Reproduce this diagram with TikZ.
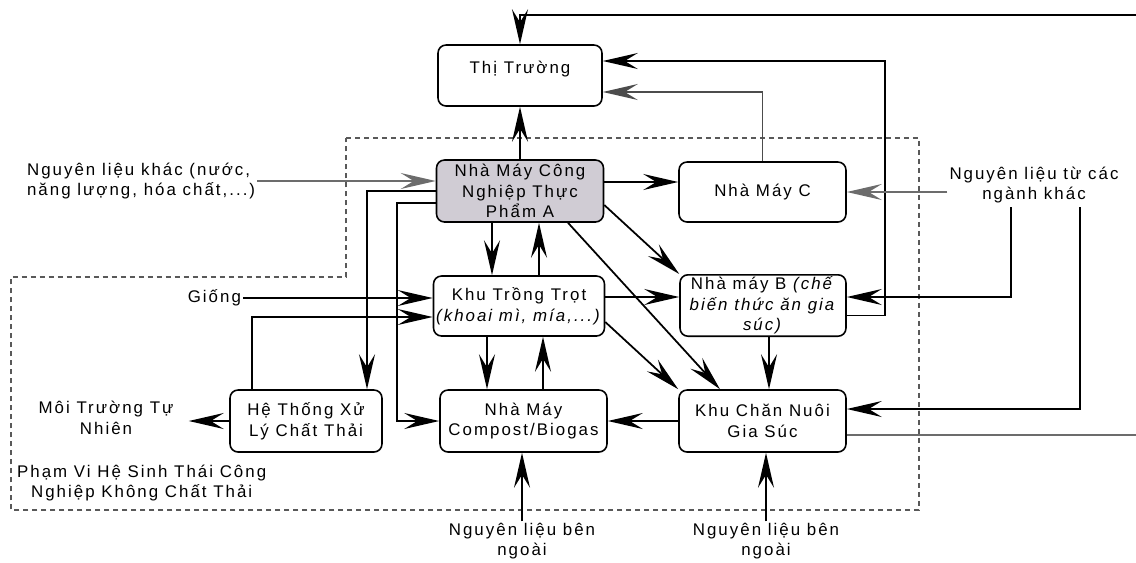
\documentclass[tikz,border=0pt]{standalone}
\usepackage{fontspec}
\setmainfont{Liberation Sans}[LetterSpace=12]
\usetikzlibrary{arrows.meta, calc}
\definecolor{plant}{RGB}{208,204,212}

\begin{document}
\begin{tikzpicture}[x=0.02cm, y=-0.02cm, >={Stealth[length=0.7cm, width=0.32cm, inset=0.26cm]},
	font=\fontsize{9.6}{11.8}\selectfont,
	box/.style={draw, rounded corners=0.16cm, line width=0.9pt, align=center, inner sep=1pt, minimum width=3.34cm, minimum height=1.24cm},
	lbl/.style={align=center, inner sep=1pt},
	flow/.style={->, line width=1pt},
	feed/.style={->, line width=1pt, draw=gray!85!black},
	zone/.style={draw=gray!70!black, line width=0.7pt, dash pattern=on 0.1cm off 0.08cm}]
			
			\useasboundingbox (0,0) rectangle (1136,562);
			
			% Zone of the eco-industrial park
			\draw[zone] (346,138) -- (919,138) -- (919,510) -- (11,510) -- (11,277) -- (346,277) -- cycle;
			
			% Boxes
			\node[box, minimum width=3.28cm, minimum height=1.22cm, text height=7pt, text depth=9pt] (tt) at (520,75.5) {Thị Trường};
			\node[box, fill=plant] (A) at (520,191) {Nhà Máy Công\\Nghiệp Thực\\Phẩm A};
			\node[box, minimum height=1.2cm] (C) at (762.5,192) {Nhà Máy C};
			\node[box, minimum width=3.42cm, minimum height=1.2cm] (TT) at (519,306) {Khu Trồng Trọt\\\textit{(khoai mì, mía,...)}};
			\node[box, minimum width=3.32cm, minimum height=1.22cm] (B) at (763,305.5) {Nhà máy B \textit{(chế}\\\textit{biến thức ăn gia}\\\textit{súc)}};
			\node[box, minimum width=3.04cm] (HT) at (306,421) {Hệ Thống Xử\\Lý Chất Thải};
			\node[box] (CB) at (523.5,421) {Nhà Máy\\Compost/Biogas};
			\node[box] (CN) at (762.5,421) {Khu Chăn Nuôi\\Gia Súc};
			
			% Outside labels
			\node[lbl, align=left, anchor=west] (nlk) at (25,181) {Nguyên liệu khác (nước,\\năng lượng, hóa chất,...)};
			\node[lbl] (nlt) at (1034,185) {Nguyên liệu từ các\\ngành khác};
			\node[lbl, anchor=east] (giong) at (243,298) {Giống};
			\node[lbl, inner xsep=0.3cm] (mt) at (106,418) {Môi Trường Tự\\Nhiên};
			\node[lbl, anchor=west] (pv) at (15,483) {Phạm Vi Hệ Sinh Thái Công\\Nghiệp Không Chất Thải};
			\node[lbl, font=\fontsize{9.6}{11}\selectfont] (nlb1) at (522,541) {Nguyên liệu bên\\ngoài};
			\node[lbl, font=\fontsize{9.6}{11}\selectfont] (nlb2) at (766,541) {Nguyên liệu bên\\ngoài};
			
			% Rails
			\coordinate (topR) at (1136,15);
			\coordinate (outR) at (1136,435);
			\coordinate (railB) at (885,0);
			\coordinate (railH) at (367,0);
			\coordinate (railC) at (397,0);
			\coordinate (railG) at (252,0);
			\coordinate (nltL) at (1011,207);
			\coordinate (nltR) at (1080,207);
			
			% Market
			\draw[flow] (topR) -| (tt.north);
			\draw[flow] (A) -- (tt);
			\draw[feed, draw=gray!60!black] (C.north) |- ($(tt.east)+(0,16.5)$);
			\draw[flow] ($(B.east)+(0,10)$) -| ($(railB |- tt.east)+(0,-14.5)$) -- ($(tt.east)+(0,-14.5)$);
			
			% Inputs
			\draw[feed] (nlk.east) -- (nlk.east -| A.west);
			\draw[feed] (nlt.west |- C.east) -- (C.east);
			\draw[flow] (nltL) |- ($(B.east)+(0,-8.5)$);
			\draw[flow] (nltR) |- ($(CN.east)+(0,-12)$);
			\draw[flow] (giong) -- (giong -| TT.west);
			\draw[flow] (nlb1.north) -- (nlb1.north |- CB.south);
			\draw[flow] (nlb2.north) -- (nlb2.north |- CN.south);
			
			% Factory A
			\draw[flow] ($(A.east)+(0,-9)$) -- ($(C.west)+(0,-10)$);
			\draw[flow] ($(A.south)+(-28,0)$) -- ($(TT.north)+(-27,0)$);
			\draw[flow] ($(TT.north)+(20,0)$) -- ($(A.south)+(19,0)$);
			\draw[flow] (A.west) -| (railH |- HT.north);
			\draw[flow] ($(A.west)+(0,12)$) -| (railC |- CB.west) -- (CB.west);
			\draw[flow] ($(A.east)+(0,14)$) -- (B.north west);
			\draw[flow] ($(A.south)+(48,0)$) -- ($(CN.north)+(-42.5,0)$);
			
			% Crops
			\draw[flow] ($(TT.east)+(0,-9)$) -- ($(B.west)+(0,-8.5)$);
			\draw[flow] ($(TT.east)+(0,16)$) -- (CN.north west);
			\draw[flow] ($(TT.south)+(-32,0)$) -- ($(CB.north)+(-36.5,0)$);
			\draw[flow] ($(CB.north)+(19.5,0)$) -- ($(TT.south)+(24,0)$);
			
			% Waste treatment
			\draw[flow] (HT.north -| railG) |- ($(TT.west)+(0,11)$);
			\draw[flow] (HT.west) -- (HT.west -| mt.east);
			
			% Livestock
			\draw[flow] ($(B.south)+(6,0)$) -- ($(CN.north)+(6.5,0)$);
			\draw[flow] (CN.west) -- (CB.east);
			\draw[feed, -] ($(CN.east)+(0,14)$) -- (outR);
			
		\end{tikzpicture}
\end{document}
